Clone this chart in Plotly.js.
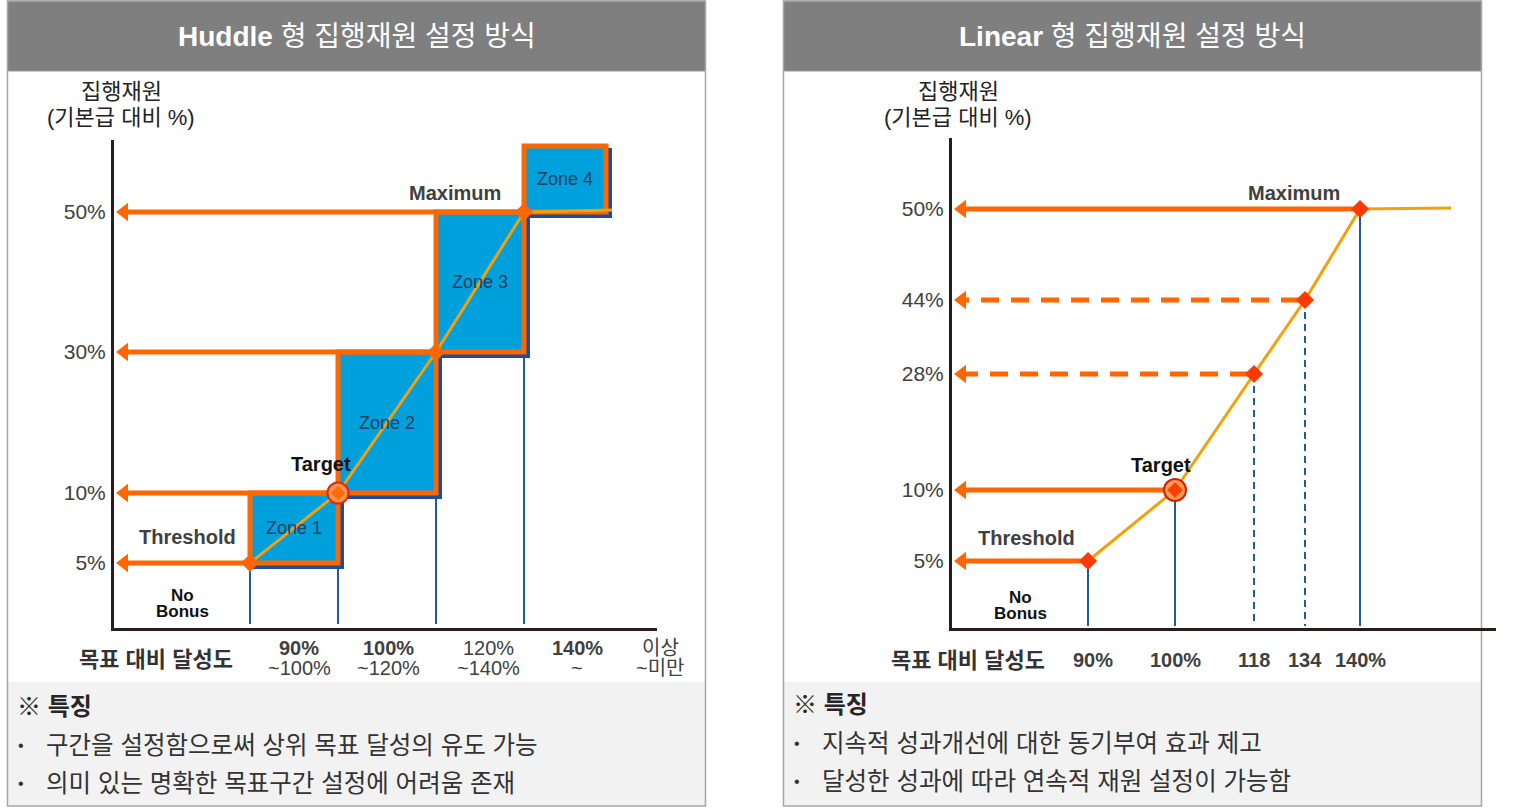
<!DOCTYPE html>
<html>
<head>
<meta charset="utf-8">
<script src="https://cdn.plot.ly/plotly-3.0.1.min.js"></script>
<style>html,body{margin:0;padding:0;background:#fff;}#chart{width:1516px;height:812px;}</style>
</head>
<body>
<div id="chart"></div>
<script>
// ================= DATA =================
const huddleTitle = ['Huddle', '형 집행재원 설정 방식'];
const linearTitle = ['Linear', '형 집행재원 설정 방식'];
const yTitle = ['집행재원', '(기본급 대비 %)'];
const xTitle = '목표 대비 달성도';

// Huddle: zone lower bounds (목표 대비 달성도 %) and budget level (기본급 대비 %) at each bound
const huddleBounds = [90, 100, 120, 140];
const huddleLevels = [5, 10, 30, 50];
const huddleZones = ['Zone 1', 'Zone 2', 'Zone 3', 'Zone 4'];
const huddleYTicks = ['5%', '10%', '30%', '50%'];
const huddleRangeTop = ['90%', '100%', '120%', '140%', '이상'];
const huddleRangeBottom = ['~100%', '~120%', '~140%', '~', '~미만'];

// Linear: achievement points and budget level at each point
const linearPoints = [90, 100, 118, 134, 140];
const linearLevels = [5, 10, 28, 44, 50];
const linearXTicks = ['90%', '100%', '118', '134', '140%'];
const linearYTicks = ['5%', '10%', '28%', '44%', '50%'];

const pointNames = ['Threshold', 'Target', 'Maximum'];
const noBonus = ['No', 'Bonus'];
const noteHeader = '※ 특징';
const huddleNotes = ['구간을 설정함으로써 상위 목표 달성의 유도 가능', '의미 있는 명확한 목표구간 설정에 어려움 존재'];
const linearNotes = ['지속적 성과개선에 대한 동기부여 효과 제고', '달성한 성과에 따라 연속적 재원 설정이 가능함'];

// ================= LAYOUT / STYLE =================
const W = 1516, H = 812;
const FONT = 'Liberation Sans, Arial, Noto Sans CJK KR, sans-serif';
const AXC = '#2a1c1c', ORANGE = '#FF6600', GOLD = '#F5A00A', ZBLUE = '#00A0DC',
      SHADOW = '#1B4E9B', VBLUE = '#1F5C9E', TXT = '#404040';

// schematic (non-linear) axis scales: page-pixel anchors for each data value
const L = { x0: 114, x1: 657, y0: 628, y1: 140, xp: [250, 338, 436, 524], yp: [563, 493, 352, 212],
            openW: 82, openH: 66, tail: 88 };
const R = { x0: 952, x1: 1496, y0: 628, y1: 138, xp: [1088, 1175, 1254, 1305, 1360], yp: [561, 490, 374, 300, 209],
            tail: 91 };
const R_DASH = [false, false, true, true, false];
const L_LABEL_SHIFT = [5, 1, 8, 12, 5];
const L_LABEL_BOLD = [true, true, false, true, false];

function interp(v, vs, ps) {
  let i = 0;
  if (v >= vs[vs.length - 1]) i = vs.length - 2;
  else if (v > vs[0]) { while (v > vs[i + 1]) i++; }
  const t = (v - vs[i]) / (vs[i + 1] - vs[i]);
  return ps[i] + t * (ps[i + 1] - ps[i]);
}
const sxL = v => interp(v, huddleBounds, L.xp);
const syL = v => interp(v, huddleLevels, L.yp);
const sxR = v => interp(v, linearPoints, R.xp);
const syR = v => interp(v, linearLevels, R.yp);

const shapes = [];
const annotations = [];
const traces = [];

function prect(x0, y0, x1, y1, fill, lc, lw) {
  shapes.push({ type: 'rect', xref: 'paper', yref: 'paper', x0: x0 / W, x1: x1 / W, y0: 1 - y1 / H, y1: 1 - y0 / H,
    fillcolor: fill, line: { color: lc, width: lw }, layer: 'below' });
}
function pann(text, x, y, size, color, opts) {
  annotations.push(Object.assign({ xref: 'paper', yref: 'paper', x: x / W, y: 1 - y / H, text: text, showarrow: false,
    xanchor: 'center', yanchor: 'middle', font: { family: FONT, size: size, color: color } }, opts || {}));
}
function dann(ax, text, x, y, xs, ys, size, color, opts) {
  annotations.push(Object.assign({ xref: ax[0], yref: ax[1], x: x, y: y, xshift: xs, yshift: ys, text: text, showarrow: false,
    xanchor: 'center', yanchor: 'middle', font: { family: FONT, size: size, color: color } }, opts || {}));
}

// ---- panels ----
[[7.5, 705.5, huddleTitle, huddleNotes, 0], [783.5, 1481.5, linearTitle, linearNotes, -2]].forEach(p => {
  const [a, b, title, notes, dy] = p;
  prect(a, 1, b, 71, '#7f7f7f', '#9a9a9a', 1);
  prect(a + 0.5, 682, b - 0.5, 806, '#f2f2f2', 'rgba(0,0,0,0)', 0);
  prect(a, 1, b, 806, 'rgba(0,0,0,0)', '#a6a6a6', 1.5);
  pann('<b>' + title[0] + '</b> ' + title[1], (a + b) / 2, 36, 28, '#ffffff');
  pann('<b>' + noteHeader + '</b>', a + 7, 706 + dy, 24, '#262626', { xanchor: 'left' });
  notes.forEach((n, i) => {
    pann('•', a + 13, 745 + dy + i * 38, 16, '#333', { xanchor: 'center' });
    pann(n, a + 36, 745 + dy + i * 38, 24.5, '#333', { xanchor: 'left' });
  });
});

// ---- axis titles ----
pann(yTitle[0], L.x0 + 7, 92, 22, '#222');
pann(yTitle[1], L.x0 + 7, 118, 22, '#222');
pann(yTitle[0], R.x0 + 6, 92, 22, '#222');
pann(yTitle[1], R.x0 + 6, 118, 22, '#222');
pann('<b>' + xTitle + '</b>', 156, 659, 22, '#333');
pann('<b>' + xTitle + '</b>', 968, 660, 22, '#333');

// ================= HUDDLE (left) =================
const LX = ['x', 'y'];
huddleBounds.forEach((b, k) => {
  shapes.push({ type: 'line', xref: 'x', yref: 'y', x0: sxL(b), x1: sxL(b), y0: syL(huddleLevels[k]), y1: L.y0 - 4,
    line: { color: VBLUE, width: 2 }, layer: 'below' });
});
huddleBounds.forEach((b, k) => {
  const xa = sxL(b), ya = syL(huddleLevels[k]);
  const xb = k < 3 ? sxL(huddleBounds[k + 1]) : xa + L.openW;
  const yb = k < 3 ? syL(huddleLevels[k + 1]) : ya - L.openH;
  shapes.push({ type: 'rect', xref: 'x', yref: 'y', x0: xa + 4, x1: xb + 4, y0: ya + 4, y1: yb + 4,
    fillcolor: SHADOW, line: { color: SHADOW, width: 4 }, layer: 'below' });
  shapes.push({ type: 'rect', xref: 'x', yref: 'y', x0: xa, x1: xb, y0: ya, y1: yb,
    fillcolor: ZBLUE, line: { color: ORANGE, width: 5 }, layer: 'below' });
  dann(LX, huddleZones[k], (xa + xb) / 2, (ya + yb) / 2, 0, 0, 18, '#22405e');
});
huddleBounds.forEach((b, k) => {
  const y = syL(huddleLevels[k]);
  traces.push({ x: [sxL(b), L.x0 + 12], y: [y, y], xaxis: 'x', yaxis: 'y', mode: 'lines',
    line: { color: ORANGE, width: 5 }, hoverinfo: 'skip' });
  traces.push({ x: [L.x0 + 10], y: [y], xaxis: 'x', yaxis: 'y', mode: 'markers',
    marker: { symbol: 'triangle-left', size: 16, color: ORANGE }, hoverinfo: 'skip', cliponaxis: false });
});
traces.push({ x: huddleBounds.map(sxL).concat([sxL(huddleBounds[3]) + L.tail]),
  y: huddleLevels.map(syL).concat([syL(huddleLevels[3]) - 2]), xaxis: 'x', yaxis: 'y', mode: 'lines',
  line: { color: GOLD, width: 3 }, hoverinfo: 'skip' });
[0, 2, 3].forEach(k => traces.push({ x: [sxL(huddleBounds[k])], y: [syL(huddleLevels[k])], xaxis: 'x', yaxis: 'y',
  mode: 'markers', marker: { symbol: 'diamond', size: 14, color: ORANGE }, hoverinfo: 'skip', cliponaxis: false }));
traces.push({ x: [sxL(huddleBounds[1])], y: [syL(huddleLevels[1])], xaxis: 'x', yaxis: 'y', mode: 'markers',
  marker: { symbol: 'circle', size: 21, color: '#FF9448', line: { color: '#DD2A10', width: 2 } }, hoverinfo: 'skip' });
traces.push({ x: [sxL(huddleBounds[1])], y: [syL(huddleLevels[1])], xaxis: 'x', yaxis: 'y', mode: 'markers',
  marker: { symbol: 'diamond', size: 11, color: '#FF6A10' }, hoverinfo: 'skip' });
dann(LX, '<b>' + pointNames[0] + '</b>', sxL(90), syL(5), -63, 26, 20, TXT);
dann(LX, '<b>' + pointNames[1] + '</b>', sxL(100), syL(10), -17, 29, 20, '#111');
dann(LX, '<b>' + pointNames[2] + '</b>', sxL(140), syL(50), -69, 19, 20, TXT);
dann(LX, '<b>' + noBonus[0] + '</b>', (L.x0 + sxL(90)) / 2, L.y0, 0, 33, 17, '#111');
dann(LX, '<b>' + noBonus[1] + '</b>', (L.x0 + sxL(90)) / 2, L.y0, 0, 17, 17, '#111');
const lMids = huddleBounds.map((b, k) => k < 3 ? (sxL(b) + sxL(huddleBounds[k + 1])) / 2 : sxL(b) + L.openW / 2).concat([L.x1 - 2]);
lMids.forEach((m, k) => {
  const sh = L_LABEL_SHIFT[k];
  dann(LX, L_LABEL_BOLD[k] ? '<b>' + huddleRangeTop[k] + '</b>' : huddleRangeTop[k], m, L.y0, sh, -20, 20, TXT);
  dann(LX, huddleRangeBottom[k], m, L.y0, sh, -40, 20, TXT);
});

// ================= LINEAR (right) =================
const RX = ['x2', 'y2'];
linearPoints.forEach((p, k) => {
  shapes.push({ type: 'line', xref: 'x2', yref: 'y2', x0: sxR(p), x1: sxR(p), y0: syR(linearLevels[k]), y1: R.y0 - 2,
    line: { color: VBLUE, width: 2, dash: R_DASH[k] ? '7px,5px' : 'solid' }, layer: 'below' });
});
linearPoints.forEach((p, k) => {
  const y = syR(linearLevels[k]);
  traces.push({ x: [sxR(p) - (R_DASH[k] ? 6 : 0), R.x0 + 12], y: [y, y], xaxis: 'x2', yaxis: 'y2', mode: 'lines',
    line: { color: ORANGE, width: 5, dash: R_DASH[k] ? '18px,12px' : 'solid' }, hoverinfo: 'skip' });
  traces.push({ x: [R.x0 + 10], y: [y], xaxis: 'x2', yaxis: 'y2', mode: 'markers',
    marker: { symbol: 'triangle-left', size: 16, color: ORANGE }, hoverinfo: 'skip', cliponaxis: false });
});
traces.push({ x: linearPoints.map(sxR).concat([sxR(linearPoints[4]) + R.tail]),
  y: linearLevels.map(syR).concat([syR(linearLevels[4]) - 1]), xaxis: 'x2', yaxis: 'y2', mode: 'lines',
  line: { color: GOLD, width: 3 }, hoverinfo: 'skip' });
[0, 2, 3, 4].forEach(k => traces.push({ x: [sxR(linearPoints[k])], y: [syR(linearLevels[k])], xaxis: 'x2', yaxis: 'y2',
  mode: 'markers', marker: { symbol: 'diamond', size: 14, color: '#FF3A00' }, hoverinfo: 'skip', cliponaxis: false }));
traces.push({ x: [sxR(linearPoints[1])], y: [syR(linearLevels[1])], xaxis: 'x2', yaxis: 'y2', mode: 'markers',
  marker: { symbol: 'circle', size: 22, color: '#FF9A55', line: { color: '#CC2200', width: 2 } }, hoverinfo: 'skip' });
traces.push({ x: [sxR(linearPoints[1])], y: [syR(linearLevels[1])], xaxis: 'x2', yaxis: 'y2', mode: 'markers',
  marker: { symbol: 'diamond', size: 12, color: '#FF4000' }, hoverinfo: 'skip' });
dann(RX, '<b>' + pointNames[0] + '</b>', sxR(90), syR(5), -62, 23, 20, TXT);
dann(RX, '<b>' + pointNames[1] + '</b>', sxR(100), syR(10), -14, 25, 20, '#111');
dann(RX, '<b>' + pointNames[2] + '</b>', sxR(140), syR(50), -66, 16, 20, TXT);
dann(RX, '<b>' + noBonus[0] + '</b>', (R.x0 + sxR(90)) / 2, R.y0, 0, 31, 17, '#111');
dann(RX, '<b>' + noBonus[1] + '</b>', (R.x0 + sxR(90)) / 2, R.y0, 0, 15, 17, '#111');
linearPoints.forEach((p, k) => {
  dann(RX, '<b>' + linearXTicks[k] + '</b>', sxR(p), R.y0, k === 0 ? 5 : 0, -32, 20, TXT);
});

// ================= AXES =================
function xax(c) {
  return { domain: [c.x0 / W, c.x1 / W], range: [c.x0, c.x1], showline: true, linecolor: AXC, linewidth: 3,
    showgrid: false, zeroline: false, showticklabels: false, ticks: '', fixedrange: true };
}
function yax(c, vals, text) {
  return { domain: [1 - c.y0 / H, 1 - c.y1 / H], range: [c.y0, c.y1], showline: true, linecolor: AXC, linewidth: 3,
    showgrid: false, zeroline: false, ticks: '', tickvals: vals, ticktext: text, ticklabelstandoff: 1,
    tickfont: { family: FONT, size: 21, color: TXT }, fixedrange: true };
}
const layout = {
  width: W, height: H, margin: { l: 0, r: 0, t: 0, b: 0 }, paper_bgcolor: '#ffffff', plot_bgcolor: 'rgba(0,0,0,0)',
  showlegend: false, hovermode: false,
  xaxis: Object.assign(xax(L), { anchor: 'y' }),
  yaxis: Object.assign(yax(L, huddleLevels.map(syL), huddleYTicks), { anchor: 'x' }),
  xaxis2: Object.assign(xax(R), { anchor: 'y2' }),
  yaxis2: Object.assign(yax(R, linearLevels.map(syR), linearYTicks), { anchor: 'x2' }),
  shapes: shapes, annotations: annotations
};
Plotly.newPlot('chart', traces, layout, { staticPlot: true, displayModeBar: false });
</script>
</body>
</html>
